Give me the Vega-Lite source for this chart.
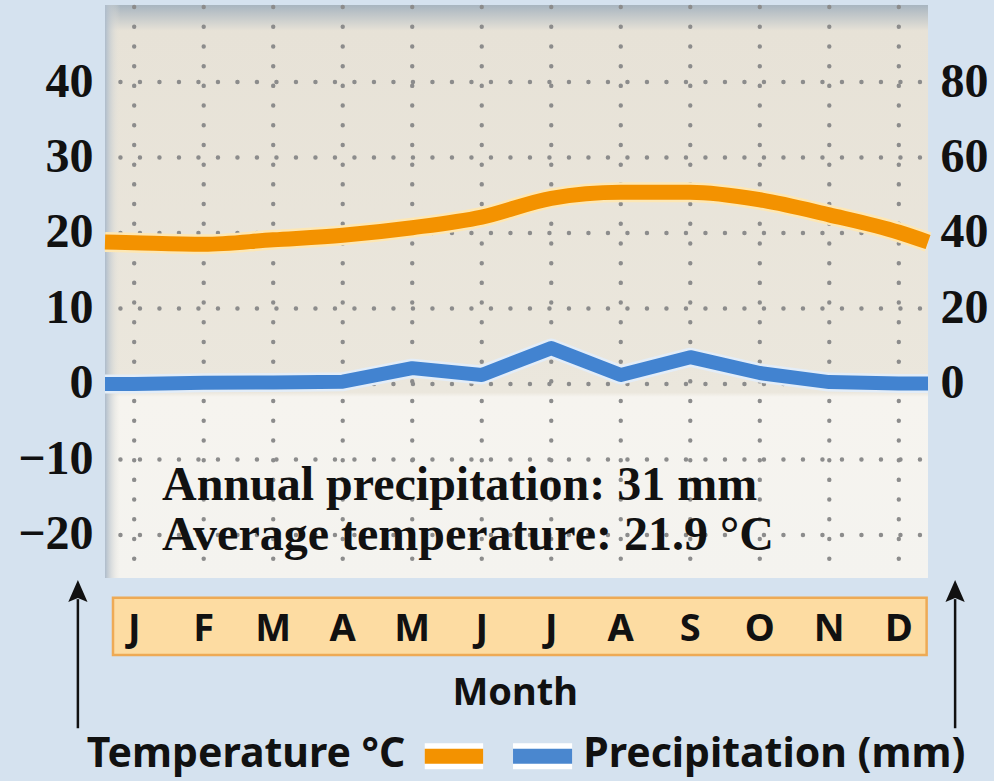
{
  "$schema": "https://vega.github.io/schema/vega-lite/v6.json",
  "width": 823,
  "height": 573,
  "autosize": "none",
  "padding": {"left": 105, "top": 5, "right": 66, "bottom": 203},
  "background": "#d5e2ef",
  "config": {
    "view": {"stroke": null},
    "axis": {
      "labelFont": "Liberation Serif",
      "labelFontWeight": "bold",
      "labelFontSize": 48,
      "labelColor": "#111111",
      "ticks": false,
      "domain": false,
      "grid": false,
      "labelBound": false,
      "labelOverlap": false,
      "labelFlush": false
    }
  },
  "datasets": {
    "climate": [
      {"month": 0.58, "label": null, "temp": 18.8, "precip": 0},
      {"month": 1, "label": "J", "temp": 18.7, "precip": 0},
      {"month": 2, "label": "F", "temp": 18.5, "precip": 0.3},
      {"month": 3, "label": "M", "temp": 19.1, "precip": 0.4},
      {"month": 4, "label": "A", "temp": 19.7, "precip": 0.6},
      {"month": 5, "label": "M", "temp": 20.7, "precip": 4.2},
      {"month": 6, "label": "J", "temp": 22.1, "precip": 2.4},
      {"month": 7, "label": "J", "temp": 24.6, "precip": 9.5},
      {"month": 8, "label": "A", "temp": 25.4, "precip": 2.4},
      {"month": 9, "label": "S", "temp": 25.4, "precip": 7.1},
      {"month": 10, "label": "O", "temp": 24.4, "precip": 2.9},
      {"month": 11, "label": "N", "temp": 22.4, "precip": 0.5},
      {"month": 12, "label": "D", "temp": 20.1, "precip": 0.1},
      {"month": 12.42, "label": null, "temp": 18.8, "precip": 0.1}
    ],
    "hgrid": [{"t": -20}, {"t": -10}, {"t": 0}, {"t": 10}, {"t": 20}, {"t": 30}, {"t": 40}],
    "one": [{"k": 1}]
  },
  "data": {"name": "climate"},
  "layer": [
    {
      "layer": [
        {
          "data": {"name": "one"},
          "mark": {
            "type": "rect",
            "fill": {
              "gradient": "linear", "x1": 0, "y1": 0, "x2": 0, "y2": 1,
              "stops": [
                {"offset": 0, "color": "#a8b5c0"},
                {"offset": 0.045, "color": "#e7e2d7"},
                {"offset": 0.676, "color": "#ebe7dd"},
                {"offset": 0.684, "color": "#f6f4ef"},
                {"offset": 1, "color": "#f4f3ef"}
              ]
            }
          },
          "encoding": {
            "x": {"datum": 0.58, "type": "quantitative", "scale": {"domain": [0.58, 12.42], "nice": false, "zero": false}, "axis": null},
            "x2": {"datum": 12.42},
            "y": {
              "datum": 50.2, "type": "quantitative",
              "scale": {"domain": [-25.7, 50.2], "nice": false, "zero": false},
              "axis": {"orient": "left", "values": [-20, -10, 0, 10, 20, 30, 40], "labelPadding": 12, "title": null}
            },
            "y2": {"datum": -25.7}
          }
        },
        {
          "data": {"name": "one"},
          "mark": {
            "type": "rect",
            "fill": {
              "gradient": "linear", "x1": 0, "y1": 0, "x2": 1, "y2": 0,
              "stops": [
                {"offset": 0, "color": "#aebccb"},
                {"offset": 1, "color": "rgba(235,231,221,0)"}
              ]
            }
          },
          "encoding": {
            "x": {"datum": 0.58, "type": "quantitative", "axis": null},
            "x2": {"datum": 0.8},
            "y": {"datum": 50.2, "type": "quantitative", "axis": {"orient": "left", "values": [-20, -10, 0, 10, 20, 30, 40], "labelPadding": 12, "title": null}},
            "y2": {"datum": -25.7}
          }
        },
        {
          "transform": [{"filter": "isValid(datum.label)"}],
          "mark": {"type": "rule", "stroke": "#8c8c8c", "strokeWidth": 4.4, "strokeDash": [0.1, 19.6], "strokeCap": "round", "strokeDashOffset": -2},
          "encoding": {
            "x": {"field": "month", "type": "quantitative", "axis": null}
          }
        },
        {
          "data": {"name": "hgrid"},
          "mark": {"type": "rule", "stroke": "#8c8c8c", "strokeWidth": 4.4, "strokeDash": [0.1, 19.4], "strokeCap": "round", "strokeDashOffset": -8},
          "encoding": {
            "y": {"field": "t", "type": "quantitative", "axis": {"orient": "left", "values": [-20, -10, 0, 10, 20, 30, 40], "labelPadding": 12, "title": null}}
          }
        },
        {
          "mark": {"type": "line", "interpolate": "monotone", "stroke": "#fde7b4", "strokeWidth": 20, "strokeCap": "butt"},
          "encoding": {
            "x": {"field": "month", "type": "quantitative", "axis": null},
            "y": {"field": "temp", "type": "quantitative", "axis": {"orient": "left", "values": [-20, -10, 0, 10, 20, 30, 40], "labelPadding": 12, "title": null}}
          }
        },
        {
          "mark": {"type": "line", "interpolate": "monotone", "stroke": "#f39200", "strokeWidth": 15, "strokeCap": "butt"},
          "encoding": {
            "x": {"field": "month", "type": "quantitative", "axis": null},
            "y": {"field": "temp", "type": "quantitative", "axis": {"orient": "left", "values": [-20, -10, 0, 10, 20, 30, 40], "labelPadding": 12, "title": null}}
          }
        },
        {
          "data": {"name": "one"},
          "mark": {"type": "rect", "fill": "#fddca2", "stroke": "#eeaa55", "strokeWidth": 2.5},
          "encoding": {
            "x": {"datum": 0.695, "type": "quantitative", "axis": null},
            "x2": {"datum": 12.4},
            "y": {"datum": -28.3, "type": "quantitative", "axis": {"orient": "left", "values": [-20, -10, 0, 10, 20, 30, 40], "labelPadding": 12, "title": null}},
            "y2": {"datum": -35.9}
          }
        },
        {
          "transform": [{"filter": "isValid(datum.label)"}],
          "mark": {"type": "text", "font": "Noto Sans", "fontWeight": "bold", "fontSize": 38, "color": "#111111", "align": "center", "baseline": "alphabetic"},
          "encoding": {
            "x": {"field": "month", "type": "quantitative", "axis": null},
            "y": {"datum": -34.0, "type": "quantitative", "axis": {"orient": "left", "values": [-20, -10, 0, 10, 20, 30, 40], "labelPadding": 12, "title": null}},
            "text": {"field": "label"}
          }
        },
        {
          "data": {"name": "one"},
          "mark": {"type": "text", "text": "Month", "font": "Noto Sans", "fontWeight": "bold", "fontSize": 38, "color": "#111111", "align": "center", "baseline": "alphabetic"},
          "encoding": {
            "x": {"datum": 6.48, "type": "quantitative", "axis": null},
            "y": {"datum": -42.5, "type": "quantitative", "axis": {"orient": "left", "values": [-20, -10, 0, 10, 20, 30, 40], "labelPadding": 12, "title": null}}
          }
        },
        {
          "data": {"name": "one"},
          "mark": {"type": "rule", "stroke": "#111111", "strokeWidth": 2.5},
          "encoding": {
            "x": {"datum": 0.19, "type": "quantitative", "axis": null},
            "y": {"datum": -28.5, "type": "quantitative", "axis": {"orient": "left", "values": [-20, -10, 0, 10, 20, 30, 40], "labelPadding": 12, "title": null}},
            "y2": {"datum": -45.6}
          }
        },
        {
          "data": {"name": "one"},
          "mark": {"type": "rule", "stroke": "#111111", "strokeWidth": 2.5},
          "encoding": {
            "x": {"datum": 12.81, "type": "quantitative", "axis": null},
            "y": {"datum": -28.5, "type": "quantitative", "axis": {"orient": "left", "values": [-20, -10, 0, 10, 20, 30, 40], "labelPadding": 12, "title": null}},
            "y2": {"datum": -45.6}
          }
        },
        {
          "data": {"name": "one"},
          "mark": {"type": "point", "shape": "M0,-1 L0.7,0.6 L0,0.3 L-0.7,0.6 Z", "filled": true, "color": "#111111", "opacity": 1, "size": 756},
          "encoding": {
            "x": {"datum": 0.19, "type": "quantitative", "axis": null},
            "y": {"datum": -27.8, "type": "quantitative", "axis": {"orient": "left", "values": [-20, -10, 0, 10, 20, 30, 40], "labelPadding": 12, "title": null}}
          }
        },
        {
          "data": {"name": "one"},
          "mark": {"type": "point", "shape": "M0,-1 L0.7,0.6 L0,0.3 L-0.7,0.6 Z", "filled": true, "color": "#111111", "opacity": 1, "size": 756},
          "encoding": {
            "x": {"datum": 12.81, "type": "quantitative", "axis": null},
            "y": {"datum": -27.8, "type": "quantitative", "axis": {"orient": "left", "values": [-20, -10, 0, 10, 20, 30, 40], "labelPadding": 12, "title": null}}
          }
        },
        {
          "data": {"name": "one"},
          "mark": {"type": "text", "text": "Annual precipitation: 31 mm", "font": "Liberation Serif", "fontWeight": "bold", "fontSize": 48, "color": "#111111", "align": "left", "baseline": "alphabetic"},
          "encoding": {
            "x": {"datum": 1.4, "type": "quantitative", "axis": null},
            "y": {"datum": -15.4, "type": "quantitative", "axis": {"orient": "left", "values": [-20, -10, 0, 10, 20, 30, 40], "labelPadding": 12, "title": null}}
          }
        },
        {
          "data": {"name": "one"},
          "mark": {"type": "text", "text": "Average temperature: 21.9 °C", "font": "Liberation Serif", "fontWeight": "bold", "fontSize": 48, "color": "#111111", "align": "left", "baseline": "alphabetic"},
          "encoding": {
            "x": {"datum": 1.4, "type": "quantitative", "axis": null},
            "y": {"datum": -22.0, "type": "quantitative", "axis": {"orient": "left", "values": [-20, -10, 0, 10, 20, 30, 40], "labelPadding": 12, "title": null}}
          }
        },
        {
          "data": {"name": "one"},
          "mark": {"type": "rule", "stroke": "#ffffff", "strokeWidth": 26, "strokeCap": "butt"},
          "encoding": {
            "x": {"datum": 5.18, "type": "quantitative", "axis": null},
            "x2": {"datum": 6.02},
            "y": {"datum": -49.3, "type": "quantitative", "axis": {"orient": "left", "values": [-20, -10, 0, 10, 20, 30, 40], "labelPadding": 12, "title": null}}
          }
        },
        {
          "data": {"name": "one"},
          "mark": {"type": "rule", "stroke": "#f39200", "strokeWidth": 15, "strokeCap": "butt"},
          "encoding": {
            "x": {"datum": 5.18, "type": "quantitative", "axis": null},
            "x2": {"datum": 6.02},
            "y": {"datum": -49.3, "type": "quantitative", "axis": {"orient": "left", "values": [-20, -10, 0, 10, 20, 30, 40], "labelPadding": 12, "title": null}}
          }
        },
        {
          "data": {"name": "one"},
          "mark": {"type": "rule", "stroke": "#ffffff", "strokeWidth": 26, "strokeCap": "butt"},
          "encoding": {
            "x": {"datum": 6.45, "type": "quantitative", "axis": null},
            "x2": {"datum": 7.3},
            "y": {"datum": -49.3, "type": "quantitative", "axis": {"orient": "left", "values": [-20, -10, 0, 10, 20, 30, 40], "labelPadding": 12, "title": null}}
          }
        },
        {
          "data": {"name": "one"},
          "mark": {"type": "rule", "stroke": "#4a87cf", "strokeWidth": 15, "strokeCap": "butt"},
          "encoding": {
            "x": {"datum": 6.45, "type": "quantitative", "axis": null},
            "x2": {"datum": 7.3},
            "y": {"datum": -49.3, "type": "quantitative", "axis": {"orient": "left", "values": [-20, -10, 0, 10, 20, 30, 40], "labelPadding": 12, "title": null}}
          }
        },
        {
          "data": {"name": "one"},
          "mark": {"type": "text", "text": "Temperature °C", "font": "Noto Sans", "fontWeight": "bold", "fontSize": 41, "color": "#111111", "align": "right", "baseline": "alphabetic"},
          "encoding": {
            "x": {"datum": 4.9, "type": "quantitative", "axis": null},
            "y": {"datum": -50.8, "type": "quantitative", "axis": {"orient": "left", "values": [-20, -10, 0, 10, 20, 30, 40], "labelPadding": 12, "title": null}}
          }
        },
        {
          "data": {"name": "one"},
          "mark": {"type": "text", "text": "Precipitation (mm)", "font": "Noto Sans", "fontWeight": "bold", "fontSize": 41, "color": "#111111", "align": "left", "baseline": "alphabetic"},
          "encoding": {
            "x": {"datum": 7.46, "type": "quantitative", "axis": null},
            "y": {"datum": -50.8, "type": "quantitative", "axis": {"orient": "left", "values": [-20, -10, 0, 10, 20, 30, 40], "labelPadding": 12, "title": null}}
          }
        }
      ]
    },
    {
      "layer": [
        {
          "mark": {"type": "line", "stroke": "#e3edf8", "strokeWidth": 19, "strokeJoin": "round", "strokeCap": "butt"},
          "encoding": {
            "x": {"field": "month", "type": "quantitative", "axis": null},
            "y": {
              "field": "precip", "type": "quantitative",
              "scale": {"domain": [-51.4, 100.4], "nice": false, "zero": false},
              "axis": {"orient": "right", "values": [0, 20, 40, 60, 80], "labelPadding": 12, "title": null}
            }
          }
        },
        {
          "mark": {"type": "line", "stroke": "#4283d0", "strokeWidth": 14, "strokeJoin": "round", "strokeCap": "butt"},
          "encoding": {
            "x": {"field": "month", "type": "quantitative", "axis": null},
            "y": {"field": "precip", "type": "quantitative", "axis": {"orient": "right", "values": [0, 20, 40, 60, 80], "labelPadding": 12, "title": null}}
          }
        }
      ]
    }
  ],
  "resolve": {"scale": {"y": "independent"}}
}
